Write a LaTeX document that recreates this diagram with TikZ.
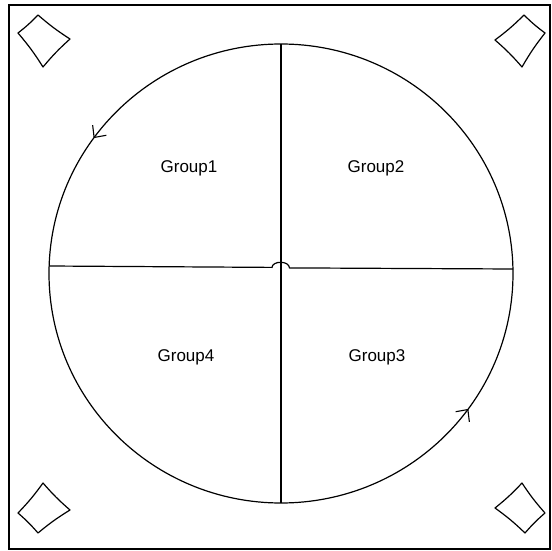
\documentclass[tikz,border=0pt]{standalone}
\usepackage{fontspec}
\setmainfont{Liberation Sans}
\usetikzlibrary{arrows.meta,decorations.markings}
\begin{document}
\begin{tikzpicture}[x=1pt,y=1pt,
  line/.style={draw=black,line width=1.2pt},
  grouplabel/.style={font=\fontsize{17}{19}\selectfont,inner sep=0pt},
  lozenge/.style={draw=black,line width=1.2pt,line join=round},
  >={Straight Barb[length=9pt,width=17pt,line width=1.1pt]}]
\useasboundingbox (0,0) rectangle (552,550);
% frame
\draw[line width=1.4pt] (9,1) rectangle (550,545);
% main circle with direction marks
\coordinate (c) at (281,276.5);
\draw[line,postaction={decorate},decoration={markings,
   mark=at position 0.40 with {\arrow{>}},
   mark=at position 0.90 with {\arrow{>}}}]
   (c) ellipse [x radius=232, y radius=229.5];
% dividers
\coordinate (top) at (281,506);
\coordinate (bot) at (281,47);
\coordinate (lft) at (49,284);
\coordinate (rgt) at (513,281);
\coordinate (j1) at (272,282.6);
\coordinate (j2) at (289.5,282.1);
\draw[line] (top) -- (bot);
\draw[line] (lft) -- (j1) .. controls (272.5,289.5) and (289,289.5) .. (j2) -- (rgt);
% labels
\node[grouplabel] (g1) at (189,382) {Group1};
\node[grouplabel] (g2) at (376,382) {Group2};
\node[grouplabel] (g4) at (186,193) {Group4};
\node[grouplabel] (g3) at (377,193) {Group3};
% corner lozenges
\draw[lozenge] (38,535) to[bend right=4] (70,511) to[bend right=4] (43,483) to[bend right=4] (18,517) to[bend right=4] cycle;
\draw[lozenge] (524,535) to[bend right=4] (545,517) to[bend right=4] (522,483) to[bend right=4] (495,510) to[bend right=4] cycle;
\draw[lozenge] (43,67) to[bend right=4] (70,40) to[bend right=4] (38,17) to[bend right=4] (18,37) to[bend right=4] cycle;
\draw[lozenge] (522,67) to[bend right=4] (545,37) to[bend right=4] (525,17) to[bend right=4] (495,42) to[bend right=4] cycle;
\end{tikzpicture}
\end{document}
